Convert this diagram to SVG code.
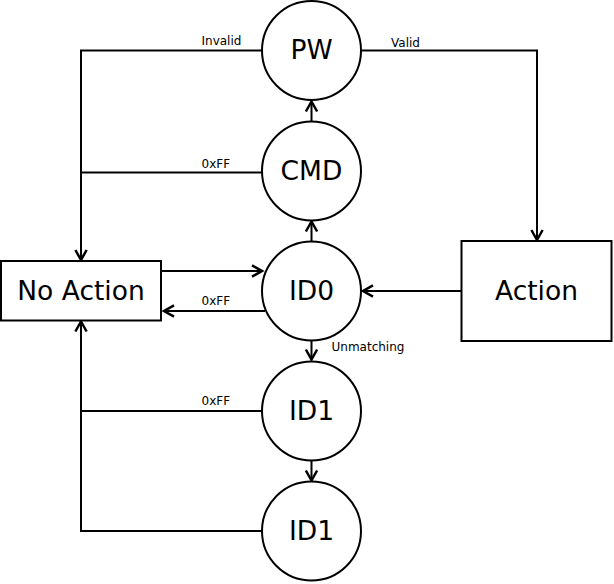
<svg xmlns="http://www.w3.org/2000/svg" width="614" height="584" viewBox="0 0 614 584">
<style>
.n{fill:#fff;stroke:#000;stroke-width:2}
.t{font-family:"DejaVu Sans",sans-serif;font-size:26.5px;text-anchor:middle;fill:#000}
.l{font-family:"DejaVu Sans",sans-serif;font-size:12px;fill:#000}
.c{fill:none;stroke:#000;stroke-width:2}
</style>
<defs>
<marker id="a" markerUnits="userSpaceOnUse" markerWidth="20" markerHeight="20" refX="0" refY="0" viewBox="-12 -8 16 16" orient="auto" overflow="visible">
<path d="M-8,-4.5 L0,0 L-8,4.5" fill="none" stroke="#000" stroke-width="2"/>
</marker>
</defs>
<rect width="614" height="584" fill="#fff"/>
<g id="connectors">
<polyline class="c" points="262,50.5 81,50.5 81,260" marker-end="url(#a)"/>
<polyline class="c" points="361,50.5 537,50.5 537,240" marker-end="url(#a)"/>
<line class="c" x1="311.5" y1="121" x2="311.5" y2="101.5" marker-end="url(#a)"/>
<line class="c" x1="262" y1="172.5" x2="81" y2="172.5"/>
<line class="c" x1="311.5" y1="241" x2="311.5" y2="221.5" marker-end="url(#a)"/>
<line class="c" x1="162" y1="271" x2="262" y2="271" marker-end="url(#a)"/>
<line class="c" x1="265" y1="311" x2="164" y2="311" marker-end="url(#a)"/>
<line class="c" x1="461" y1="291" x2="363" y2="291" marker-end="url(#a)"/>
<line class="c" x1="311.5" y1="341" x2="311.5" y2="359.5" marker-end="url(#a)"/>
<line class="c" x1="262" y1="411" x2="81" y2="411"/>
<line class="c" x1="311.5" y1="461" x2="311.5" y2="480.5" marker-end="url(#a)"/>
<polyline class="c" points="262,531 81,531 81,321.5" marker-end="url(#a)"/>
<text class="l" x="201.5" y="45">Invalid</text>
<text class="l" x="391" y="46.5">Valid</text>
<text class="l" x="201.5" y="168">0xFF</text>
<text class="l" x="201.5" y="305">0xFF</text>
<text class="l" x="331.5" y="351">Unmatching</text>
<text class="l" x="201.5" y="405">0xFF</text>
</g>
<g id="PW"><circle class="n" cx="311.5" cy="50.5" r="49.5"/><text class="t" x="311.5" y="59">PW</text></g>
<g id="CMD"><circle class="n" cx="311.5" cy="171" r="49.5"/><text class="t" x="311.5" y="179.5">CMD</text></g>
<g id="ID0"><circle class="n" cx="311.5" cy="291" r="49.5"/><text class="t" x="311.5" y="299.5">ID0</text></g>
<g id="ID1"><circle class="n" cx="311.5" cy="411" r="49.5"/><text class="t" x="311.5" y="419.5">ID1</text></g>
<g id="ID1b"><circle class="n" cx="311.5" cy="531" r="49.5"/><text class="t" x="311.5" y="539.5">ID1</text></g>
<g id="NoAction"><rect class="n" x="1" y="261" width="160" height="59.5"/><text class="t" x="81" y="299.5">No Action</text></g>
<g id="Action"><rect class="n" x="461.5" y="241" width="150" height="100"/><text class="t" x="536.5" y="299.5">Action</text></g>
</svg>
